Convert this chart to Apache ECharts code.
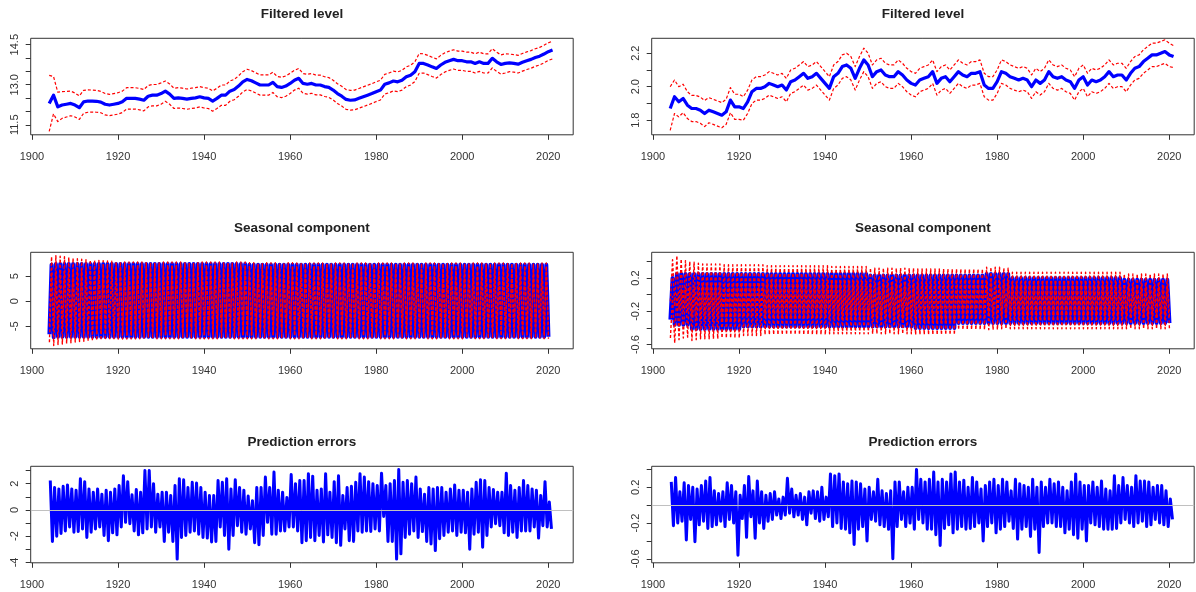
<!DOCTYPE html>
<html><head><meta charset="utf-8">
<script src="https://cdn.jsdelivr.net/npm/echarts@6/dist/echarts.min.js"></script>
<style>html,body{margin:0;padding:0;background:#fff}#c{width:1196px;height:592px}</style>
</head><body><div id="c"></div>
<script>
// ---------- DATA ----------
const FIRST_YEAR = 1904;
const xTickYears = [1900,1920,1940,1960,1980,2000,2020];

// Filtered level, left (one value per year 1904..2021) and half-width of the red band
const levelLeft = [12.3,12.61,12.17,12.24,12.27,12.3,12.24,12.14,12.36,12.39,12.39,12.38,12.35,12.27,12.24,12.27,12.3,12.36,12.49,12.49,
12.49,12.46,12.42,12.57,12.61,12.61,12.67,12.76,12.65,12.49,12.51,12.49,12.46,12.49,12.51,12.55,12.51,12.49,12.39,12.49,
12.61,12.61,12.76,12.82,12.95,13.11,13.2,13.15,13.07,12.99,12.99,12.99,13.09,12.93,12.9,12.95,13.05,13.17,13.24,13.05,
13.02,13.05,12.99,12.99,12.93,12.9,12.8,12.67,12.57,12.45,12.42,12.43,12.49,12.55,12.61,12.67,12.74,12.8,13.02,13.07,
13.14,13.11,13.17,13.3,13.36,13.49,13.8,13.8,13.74,13.67,13.61,13.74,13.84,13.9,13.95,13.9,13.9,13.86,13.86,13.8,
13.86,13.8,13.8,13.99,13.86,13.76,13.8,13.82,13.8,13.77,13.84,13.9,13.95,14.02,14.07,14.15,14.24,14.3];
const levelLeftHalfWidth = [1.05,0.7,0.55,0.5,0.48,0.46,0.45,0.44,0.43,0.42,0.41,0.41,
0.4,0.4,0.4,0.4,0.4,0.4,0.4,0.4,0.4,0.4,0.4,0.4,0.4,0.4,0.4,
0.38,0.38,0.38,0.38,0.38,0.38,0.38,0.38,0.38,0.38,0.38,0.38,0.38,0.38,0.38,0.38,0.38,0.38,0.38,0.38,0.38,0.38,0.38,0.38,0.38,0.38,0.38,0.38,0.38,0.38,
0.37,0.37,0.37,0.37,0.37,0.37,0.37,0.37,0.37,0.37,0.37,0.37,0.37,0.37,0.37,0.37,0.37,0.37,0.37,0.37,0.37,0.37,0.37,0.37,0.37,0.37,0.37,0.37,0.37,0.37,
0.36,0.36,0.36,0.36,0.36,0.36,0.36,0.36,0.36,0.36,0.36,0.36,0.36,0.36,0.36,0.36,0.36,0.36,0.36,0.36,
0.33,0.33,0.33,0.33,0.33,0.33,0.33,0.33,0.33,0.33,0.33];

// Filtered level, right (1904..2021)
const levelRight = [1.87,1.94,1.91,1.93,1.89,1.87,1.87,1.86,1.84,1.86,1.85,1.84,1.83,1.85,1.92,1.88,1.88,1.87,1.91,1.97,
1.99,1.99,2.0,2.02,2.01,2.0,2.01,1.98,2.03,2.04,2.06,2.08,2.05,2.06,2.08,2.05,2.02,1.99,2.06,2.08,
2.12,2.13,2.11,2.05,2.11,2.16,2.13,2.06,2.09,2.1,2.07,2.06,2.06,2.09,2.07,2.04,2.02,2.01,2.04,2.05,
2.06,2.09,2.02,2.05,2.06,2.03,2.06,2.09,2.07,2.06,2.08,2.08,2.09,2.01,1.99,1.99,2.03,2.09,2.08,2.06,
2.05,2.04,2.05,2.04,2.0,2.04,2.02,2.04,2.09,2.06,2.05,2.06,2.04,2.03,1.99,2.04,2.06,2.01,2.04,2.03,
2.04,2.06,2.09,2.06,2.07,2.07,2.04,2.08,2.11,2.12,2.15,2.17,2.19,2.19,2.2,2.21,2.19,2.18];
const levelRightHalfWidth = [0.13,0.1,0.09,0.085,0.08,0.078,0.078,0.078,0.078,
0.075,0.075,0.075,0.075,0.075,0.075,0.075,0.075,
0.07,0.07,0.07,0.07,0.07,0.07,0.07,0.07,0.07,0.07,0.07,0.07,0.07,0.07,0.07,0.07,0.07,0.07,0.07,0.07,0.07,0.07,0.07,0.07,0.07,0.07,0.07,0.07,0.07,0.07,
0.07,0.07,0.07,0.07,0.07,0.07,0.07,0.07,0.07,0.07,0.07,0.07,0.07,0.07,0.07,0.07,0.07,0.07,0.07,0.07,0.07,0.07,0.07,0.07,0.07,0.07,0.07,0.07,0.07,0.07,
0.07,0.07,0.07,0.07,0.07,0.07,0.07,0.07,0.07,0.07,0.07,0.07,0.07,0.07,0.07,0.07,0.07,0.07,0.07,0.07,0.07,0.07,0.07,0.07,0.07,0.07,0.07,0.07,0.07,0.07,
0.07,0.07,0.07,0.07,0.07,0.07,0.07,0.07,0.07,0.07,
0.065,0.065,0.065,0.065,0.065,0.065,0.065,0.065,0.065,0.065,0.065];

// Seasonal component, left: yearly summer peak, winter trough, half-width of red band (1904..2020)
const seasLeftPeak = [7.3,
7.45,7.45,7.45,7.45,7.45,7.45,7.45,7.45,7.45,7.45,7.45,7.45,7.45,7.45,7.45,7.45,7.45,7.45,7.45,7.45,7.45,7.45,7.45,
7.45,7.45,7.45,7.45,7.45,7.45,7.45,7.45,7.45,7.45,7.45,7.45,7.45,7.45,7.45,7.45,7.45,7.45,7.45,7.45,7.45,7.45,
7.3,7.3,7.3,7.3,7.3,7.3,7.3,7.3,7.3,7.3,7.3,7.3,7.3,7.3,7.3,7.3,7.3,7.3,7.3,7.3,7.3,7.3,7.3,7.3,7.3,7.3,7.3,7.3,7.3,7.3,7.3,7.3,7.3,7.3,7.3,
7.3,7.3,7.3,7.3,7.3,7.3,7.3,7.3,7.3,7.3,7.3,7.3,7.3,7.3,7.3,7.3,7.3,7.3,7.3,7.3,7.3,7.3,7.3,7.3,7.3,7.3,7.3,7.3,7.3,7.3,7.3,7.3,7.3,7.3,7.3];
const seasLeftTrough = [-6.6,-7.2,
-7.1,-7.1,-7.1,-7.1,-7.1,-7.1,-7.1,-7.1,-7.1,-7.1,-7.1,-7.1,-7.1,-7.1,-7.1,-7.1,-7.1,-7.1,-7.1,-7.1,-7.1,-7.1,-7.1,-7.1,-7.1,-7.1,-7.1,-7.1,-7.1,-7.1,-7.1,-7.1,-7.1,
-7.1,-7.1,-7.1,-7.1,-7.1,-7.1,-7.1,-7.1,-7.1,-7.1,-7.1,-7.1,-7.1,-7.1,-7.1,-7.1,-7.1,-7.1,-7.1,-7.1,-7.1,-7.1,-7.1,-7.1,-7.1,-7.1,-7.1,-7.1,-7.1,-7.1,-7.1,-7.1,-7.1,
-7.1,-7.1,-7.1,-7.1,-7.1,-7.1,-7.1,-7.1,-7.1,-7.1,-7.1,-7.1,-7.1,-7.1,-7.1,-7.1,-7.1,-7.1,-7.1,-7.1,-7.1,-7.1,-7.1,-7.1,-7.1,-7.1,-7.1,-7.1,-7.1,-7.1,-7.1,-7.1,-7.1,
-7.1,-7.1,-7.1,-7.1,-7.1,-7.1,-7.1,-7.1,-7.1,-7.1,-7.1,-7.1,-7.1,-7.1,-7.1,-7.1,-7.1,-7.1];
const seasLeftHalfWidth = [1.6,1.65,1.55,1.45,1.35,1.2,1.05,0.95,0.88,0.8,0.75,0.7,0.66,0.6,0.55,0.5,0.46,0.44,0.43,0.42,0.42,0.41,0.41,
0.4,0.4,0.4,0.4,0.4,0.4,0.4,0.4,0.4,0.4,0.4,0.4,0.4,0.4,0.4,0.4,0.4,0.4,0.4,0.4,0.4,0.4,0.4,0.4,0.4,0.4,0.4,0.4,0.4,0.4,0.4,0.4,0.4,0.4,
0.38,0.38,0.38,0.38,0.38,0.38,0.38,0.38,0.38,0.38,0.38,0.38,0.38,0.38,0.38,0.38,0.38,0.38,0.38,0.38,
0.38,0.38,0.38,0.38,0.38,0.38,0.38,0.38,0.38,0.38,0.38,0.38,0.38,0.38,0.38,0.38,0.38,0.38,0.38,0.38,
0.37,0.37,0.37,0.37,0.37,0.37,0.37,0.37,0.37,0.37,0.37,0.37,0.37,0.37,0.37,0.37,0.37,0.37,0.37,0.37];

// Seasonal component, right (1904..2020)
const seasRightPeak = [0.2,
0.25,0.25,0.25,0.25,0.25,0.25,0.25,0.25,0.25,0.25,0.25,0.25,0.25,0.25,0.25,0.25,0.25,0.25,0.25,0.25,0.25,0.25,0.25,
0.25,0.25,0.25,0.25,0.25,0.25,0.25,0.25,0.25,0.25,0.25,0.25,0.25,0.25,0.25,0.25,0.25,0.25,0.25,0.25,0.25,0.25,
0.23,0.23,0.23,0.23,0.23,0.23,0.23,0.23,0.23,0.23,0.23,0.23,0.23,0.23,0.23,0.23,0.23,0.23,0.23,0.23,0.23,0.23,0.23,0.23,0.23,0.23,0.23,
0.25,0.25,0.25,0.25,0.25,0.25,
0.2,0.2,0.2,0.2,0.2,0.2,0.2,0.2,0.2,0.2,0.2,0.2,0.2,0.2,0.2,0.2,0.2,0.2,0.2,0.2,0.2,0.2,0.2,0.2,0.2,0.2,
0.18,0.18,0.18,0.18,0.18,0.18,0.18,0.18,0.18,0.18,0.18];
const seasRightTrough = [-0.3,
-0.36,-0.36,-0.36,-0.36,
-0.41,-0.41,-0.41,-0.41,-0.41,-0.41,-0.41,-0.41,-0.41,-0.41,-0.41,-0.41,
-0.38,-0.38,-0.38,-0.38,-0.38,-0.38,-0.38,-0.38,-0.38,-0.38,-0.38,-0.38,-0.38,-0.38,-0.38,-0.38,-0.38,-0.38,-0.38,-0.38,
-0.38,-0.38,-0.38,-0.38,-0.38,-0.38,-0.38,-0.38,-0.38,-0.38,-0.38,-0.38,-0.38,-0.38,-0.38,-0.38,-0.38,-0.38,-0.38,-0.38,
-0.4,-0.4,-0.4,-0.4,-0.4,-0.4,-0.4,-0.4,-0.4,-0.4,
-0.34,-0.34,-0.34,-0.34,-0.34,-0.34,-0.34,-0.34,-0.34,-0.34,-0.34,-0.34,-0.34,-0.34,-0.34,-0.34,-0.34,-0.34,-0.34,-0.34,-0.34,-0.34,-0.34,-0.34,-0.34,
-0.34,-0.34,-0.34,-0.34,-0.34,-0.34,-0.34,-0.34,-0.34,-0.34,-0.34,-0.34,-0.34,-0.34,-0.34,-0.34,-0.34,-0.34,-0.34,-0.34,-0.34,-0.34,-0.34,-0.34,-0.34];
const seasRightHalfWidth = [0.22,0.22,0.18,0.16,0.15,0.14,0.13,
0.12,0.12,0.12,0.12,0.12,
0.11,0.11,0.11,0.11,0.11,0.11,0.11,0.11,0.11,0.11,
0.1,0.1,0.1,0.1,0.1,0.1,0.1,0.1,0.1,0.1,0.1,0.1,0.1,0.1,0.1,
0.09,0.09,0.09,0.09,0.09,0.09,0.09,0.09,0.09,0.09,0.09,0.09,0.09,0.09,0.09,0.09,0.09,0.09,0.09,0.09,
0.08,0.08,0.08,0.08,0.08,0.08,0.08,0.08,0.08,0.08,0.08,0.08,0.08,0.08,0.08,0.08,0.08,0.08,0.08,0.08,
0.07,0.07,0.07,0.07,0.07,0.07,0.07,0.07,0.07,0.07,0.07,0.07,0.07,0.07,0.07,0.07,0.07,0.07,0.07,0.07,
0.07,0.07,0.07,0.07,0.07,0.07,0.07,0.07,0.07,0.07,0.07,0.07,0.07,0.07,0.07,0.07,0.07,0.07,0.07,0.07];

// Prediction errors: highest and lowest error in each year (1904..2020)
const errLeftHigh = [2.24,1.7,1.6,1.8,1.9,1.6,1.5,2.37,2.15,1.6,
1.35,1.6,1.2,1.5,1.35,1.6,1.85,2.6,2.15,1.15,
1.55,1.35,3.0,3.0,2.0,1.2,1.35,1.35,1.1,1.85,
2.37,2.3,1.7,2.1,2.05,1.7,1.35,1.1,1.1,2.24,
2.1,2.37,1.6,2.3,1.7,1.5,1.05,0.7,1.7,1.7,
2.5,1.7,2.88,1.5,1.35,0.95,2.7,2.0,2.24,2.24,
2.75,2.57,1.5,1.6,2.75,1.35,2.15,2.6,1.1,1.7,
1.8,2.1,2.75,2.5,2.15,2.0,1.85,2.8,1.85,2.0,
2.24,3.07,2.1,2.24,2.0,2.5,1.6,1.2,1.7,1.6,
1.7,1.7,1.35,1.6,1.9,1.5,1.5,1.35,1.6,2.1,
2.3,2.24,1.7,1.55,1.35,1.35,2.8,1.85,1.5,1.7,
2.24,1.85,1.6,1.5,1.1,2.15,0.6];
const errLeftLow = [-2.4,-2.0,-1.8,-1.6,-1.3,-1.7,-1.65,-1.45,-2.1,-1.7,
-1.45,-1.3,-1.95,-2.35,-1.75,-1.9,-1.3,-0.95,-1.05,-1.6,
-1.9,-1.75,-1.45,-1.3,-1.7,-1.3,-2.4,-1.7,-2.4,-3.75,
-2.1,-1.95,-1.7,-1.6,-1.85,-2.1,-2.15,-2.45,-2.4,-1.3,
-1.95,-3.0,-1.95,-1.2,-1.7,-1.85,-1.45,-2.5,-2.65,-1.95,
-0.95,-1.85,-1.85,-1.6,-1.6,-1.3,-1.3,-1.6,-2.5,-2.35,
-2.1,-2.35,-1.95,-2.45,-1.9,-2.1,-2.5,-2.7,-1.45,-2.35,
-2.4,-1.6,-1.7,-1.6,-1.65,-1.45,-1.6,-0.5,-2.4,-2.4,
-3.75,-3.35,-2.1,-1.85,-1.6,-2.1,-1.65,-2.4,-2.6,-3.1,
-2.2,-1.95,-1.7,-1.6,-1.95,-1.7,-1.75,-3.0,-1.85,-1.7,
-2.85,-1.95,-1.3,-1.05,-1.2,-1.75,-1.95,-1.7,-2.1,-1.6,
-1.6,-1.6,-1.3,-2.15,-1.2,-1.3,-1.45];
const errRightHigh = [0.26,0.31,0.15,0.25,0.22,0.2,0.18,0.22,0.27,0.31,
0.16,0.13,0.15,0.25,0.22,0.15,0.11,0.22,0.32,0.16,
0.27,0.15,0.11,0.13,0.15,0.07,0.09,0.3,0.18,0.11,
0.13,0.09,0.15,0.16,0.15,0.2,0.09,0.35,0.33,0.35,
0.26,0.24,0.27,0.26,0.24,0.18,0.2,0.15,0.29,0.16,
0.13,0.16,0.26,0.26,0.15,0.2,0.2,0.4,0.29,0.26,
0.29,0.37,0.26,0.29,0.26,0.35,0.37,0.26,0.28,0.2,
0.31,0.26,0.18,0.22,0.26,0.29,0.22,0.29,0.26,0.16,
0.29,0.24,0.22,0.2,0.29,0.2,0.26,0.2,0.29,0.24,
0.26,0.2,0.16,0.26,0.35,0.26,0.22,0.22,0.26,0.2,
0.27,0.18,0.16,0.33,0.22,0.31,0.22,0.2,0.33,0.27,
0.27,0.26,0.2,0.22,0.22,0.16,0.07];
const errRightLow = [-0.23,-0.2,-0.18,-0.39,-0.16,-0.41,-0.22,-0.18,-0.26,-0.24,
-0.22,-0.18,-0.24,-0.16,-0.2,-0.56,-0.15,-0.36,-0.13,-0.37,
-0.2,-0.26,-0.18,-0.16,-0.11,-0.15,-0.11,-0.09,-0.13,-0.11,
-0.16,-0.22,-0.09,-0.15,-0.18,-0.16,-0.13,-0.24,-0.2,-0.26,
-0.27,-0.31,-0.44,-0.27,-0.24,-0.4,-0.16,-0.18,-0.22,-0.24,
-0.27,-0.6,-0.24,-0.16,-0.24,-0.2,-0.27,-0.16,-0.2,-0.27,
-0.27,-0.33,-0.45,-0.26,-0.22,-0.31,-0.27,-0.24,-0.27,-0.26,
-0.24,-0.2,-0.4,-0.24,-0.2,-0.31,-0.27,-0.24,-0.18,-0.26,
-0.38,-0.27,-0.24,-0.35,-0.27,-0.53,-0.24,-0.2,-0.2,-0.24,
-0.24,-0.31,-0.27,-0.33,-0.37,-0.27,-0.4,-0.2,-0.22,-0.24,
-0.27,-0.27,-0.27,-0.26,-0.2,-0.16,-0.2,-0.24,-0.2,-0.18,
-0.24,-0.22,-0.16,-0.2,-0.22,-0.24,-0.16];

// y-axis tick values and labelled ticks
const yTicksLevelLeft = [11.5,12,12.5,13,13.5,14,14.5], yLabelsLevelLeft = [11.5,13,14.5];
const yTicksLevelRight = [1.8,1.9,2,2.1,2.2], yLabelsLevelRight = [1.8,2,2.2];
const yTicksSeasLeft = [-5,0,5], yLabelsSeasLeft = [-5,0,5];
const yTicksSeasRight = [-0.6,-0.4,-0.2,0,0.2,0.4], yLabelsSeasRight = [-0.6,-0.2,0.2];
const yTicksErrLeft = [-4,-3,-2,-1,0,1,2,3], yLabelsErrLeft = [-4,-2,0,2];
const yTicksErrRight = [-0.6,-0.4,-0.2,0,0.2,0.4], yLabelsErrRight = [-0.6,-0.2,0.2];
const titles = ['Filtered level','Filtered level','Seasonal component','Seasonal component','Prediction errors','Prediction errors'];

// ---------- BUILD ----------
const FONT = "'Liberation Sans', Arial, sans-serif";
const GL = [30.7, 651.7], GW = 542.5, GH = 96.5, GT = [38.3, 252.3, 466.3];
const XMIN = 1899.7, XMAX = 2025.8;

function yearly(vals, off, add, sign) {
  return vals.map((v, i) => [FIRST_YEAR + i + off, add ? v + sign * add[i] : v]);
}
function zig(a, offA, b, offB, add, sign) {
  const out = [];
  a.forEach((v, i) => {
    const h = add ? sign * add[i] : 0;
    out.push([FIRST_YEAR + i + offA, v + h]);
    out.push([FIRST_YEAR + i + offB, b[i] + h]);
  });
  return out;
}

const panels = [
  {min: 11.125, max: 14.74, ticks: yTicksLevelLeft, labels: yLabelsLevelLeft, fmt: v => v.toFixed(1)},
  {min: 1.713, max: 2.289, ticks: yTicksLevelRight, labels: yLabelsLevelRight, fmt: v => v.toFixed(1)},
  {min: -9.5, max: 9.8, ticks: yTicksSeasLeft, labels: yLabelsSeasLeft, fmt: v => String(v)},
  {min: -0.65, max: 0.51, ticks: yTicksSeasRight, labels: yLabelsSeasRight, fmt: v => v.toFixed(1)},
  {min: -4.03, max: 3.32, ticks: yTicksErrLeft, labels: yLabelsErrLeft, fmt: v => String(v)},
  {min: -0.645, max: 0.435, ticks: yTicksErrRight, labels: yLabelsErrRight, fmt: v => v.toFixed(1)}
];

const grid = [], xAxis = [], yAxis = [], graphic = [];
panels.forEach((p, i) => {
  const col = i % 2, row = Math.floor(i / 2);
  grid.push({left: GL[col], top: GT[row], width: GW, height: GH, show: true, borderColor: '#333', borderWidth: 1,
    backgroundColor: 'transparent', containLabel: false, outerBoundsMode: 'none'});
  xAxis.push({type: 'value', gridIndex: i, min: XMIN, max: XMAX, position: 'bottom',
    axisLine: {show: false, onZero: false}, splitLine: {show: false},
    axisTick: {show: true, length: 5, customValues: xTickYears, lineStyle: {color: '#333', width: 1}},
    axisLabel: {customValues: xTickYears, margin: 17, color: '#333', fontSize: 11, fontFamily: FONT, formatter: v => String(v)}});
  yAxis.push({type: 'value', gridIndex: i, min: p.min, max: p.max, position: 'left',
    axisLine: {show: false, onZero: false}, splitLine: {show: false},
    axisTick: {show: true, length: 5, customValues: p.ticks, lineStyle: {color: '#333', width: 1}},
    axisLabel: {customValues: p.labels, rotate: 90, margin: 10, color: '#333', fontSize: 11, fontFamily: FONT, formatter: p.fmt}});
  graphic.push({type: 'text', x: GL[col] + GW / 2, y: GT[row] - 24,
    style: {text: titles[i], fill: '#222', font: 'bold 13.5px ' + FONT, textAlign: 'center', textVerticalAlign: 'middle'}});
});

const BLUE = '#0000ff', RED = '#ff0000';
function line(idx, data, color, width, dashed, extra) {
  return Object.assign({type: 'line', xAxisIndex: idx, yAxisIndex: idx, data, showSymbol: false, symbol: 'none',
    animation: false, silent: true, lineStyle: {color, width, type: dashed ? [3, 2] : 'solid', join: 'round', cap: 'butt'}}, extra || {});
}
const zeroLine = {silent: true, symbol: 'none', animation: false, label: {show: false},
  lineStyle: {color: '#c0c0c0', width: 1, type: 'solid'}, data: [{yAxis: 0}]};

const series = [
  line(0, yearly(levelLeft, 0), BLUE, 3.2),
  line(0, yearly(levelLeft, 0, levelLeftHalfWidth, 1), RED, 1.2, true),
  line(0, yearly(levelLeft, 0, levelLeftHalfWidth, -1), RED, 1.2, true),
  line(1, yearly(levelRight, 0), BLUE, 3.2),
  line(1, yearly(levelRight, 0, levelRightHalfWidth, 1), RED, 1.2, true),
  line(1, yearly(levelRight, 0, levelRightHalfWidth, -1), RED, 1.2, true),
  line(2, zig(seasLeftTrough, 0.05, seasLeftPeak, 0.55), BLUE, 4),
  line(2, zig(seasLeftTrough, 0.05, seasLeftPeak, 0.55, seasLeftHalfWidth, 1), RED, 1.4, true),
  line(2, zig(seasLeftTrough, 0.05, seasLeftPeak, 0.55, seasLeftHalfWidth, -1), RED, 1.4, true),
  line(3, zig(seasRightTrough, 0.05, seasRightPeak, 0.55), BLUE, 4),
  line(3, zig(seasRightTrough, 0.05, seasRightPeak, 0.55, seasRightHalfWidth, 1), RED, 1.4, true),
  line(3, zig(seasRightTrough, 0.05, seasRightPeak, 0.55, seasRightHalfWidth, -1), RED, 1.4, true),
  line(4, zig(errLeftHigh, 0.25, errLeftLow, 0.75), BLUE, 3, false, {markLine: zeroLine}),
  line(5, zig(errRightHigh, 0.25, errRightLow, 0.75), BLUE, 3, false, {markLine: zeroLine})
];

const chart = echarts.init(document.getElementById('c'), null, {renderer: 'canvas', width: 1196, height: 592});
chart.setOption({animation: false, backgroundColor: '#fff', grid, xAxis, yAxis, series, graphic});
</script></body></html>
